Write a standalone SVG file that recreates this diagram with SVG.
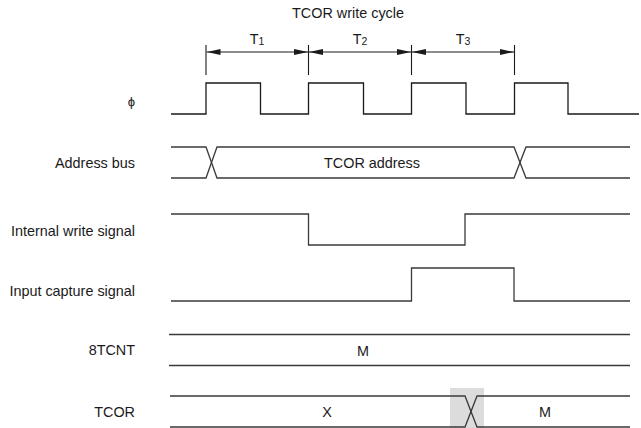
<svg xmlns="http://www.w3.org/2000/svg" width="641" height="428" viewBox="0 0 641 428">
<style>
  text { font-family: "Liberation Sans", Arial, Helvetica, sans-serif; fill: #1a1a1a; }
  .lbl { font-size: 14.4px; text-anchor: end; }
  .val { font-size: 14.4px; text-anchor: middle; }
  .sub { font-size: 10.5px; }
  .sig { fill: none; stroke: #1a1a1a; stroke-width: 1.3; }
  .bus { fill: none; stroke: #3a3a3a; stroke-width: 1.3; }
  .tick { stroke: #1a1a1a; stroke-width: 1.1; }
  .dim { stroke: #1a1a1a; stroke-width: 1.1; marker-start: url(#ah); marker-end: url(#ah); }
</style>
<defs>
  <marker id="ah" viewBox="0 0 14 6" refX="14" refY="3" markerWidth="14" markerHeight="6" markerUnits="userSpaceOnUse" orient="auto-start-reverse">
    <polygon points="0,0 14,3 0,6" fill="#1a1a1a"/>
  </marker>
</defs>
<rect width="641" height="428" fill="#ffffff"/>

<g id="title">
  <text class="val" x="348" y="18">TCOR write cycle</text>
</g>

<g id="cycle-ticks">
  <line class="tick" x1="206" y1="45" x2="206" y2="75"/>
  <line class="tick" x1="308.5" y1="45" x2="308.5" y2="75"/>
  <line class="tick" x1="411.5" y1="45" x2="411.5" y2="75"/>
  <line class="tick" x1="514.5" y1="45" x2="514.5" y2="75"/>
</g>

<g id="connectors">
  <line class="dim" x1="206.5" y1="52" x2="308" y2="52"/>
  <line class="dim" x1="309" y1="52" x2="411" y2="52"/>
  <line class="dim" x1="412" y1="52" x2="514" y2="52"/>
</g>

<g id="T1"><text class="val" x="257" y="44">T<tspan class="sub" dy="1">1</tspan></text></g>
<g id="T2"><text class="val" x="360" y="44">T<tspan class="sub" dy="1">2</tspan></text></g>
<g id="T3"><text class="val" x="463" y="44">T<tspan class="sub" dy="1">3</tspan></text></g>

<g id="phi">
  <text class="lbl" x="135" y="106" style="font-size:13px">ϕ</text>
  <path class="sig" d="M171,114 H206 V83 H260.5 V114 H308.5 V83 H363.5 V114 H411.5 V83 H466 V114 H514.5 V83 H568 V114 H639"/>
</g>

<g id="address-bus">
  <text class="lbl" x="135" y="168">Address bus</text>
  <path class="bus" d="M171,147 H206 L217,178 H514 L526,147 H630"/>
  <path class="bus" d="M171,178 H206 L217,147 H514 L526,178 H630"/>
  <text class="val" x="372" y="168">TCOR address</text>
</g>

<g id="internal-write-signal">
  <text class="lbl" x="135" y="235.5">Internal write signal</text>
  <path class="bus" d="M171,214 H308.5 V245 H465 V214 H630"/>
</g>

<g id="input-capture-signal">
  <text class="lbl" x="135" y="295.5">Input capture signal</text>
  <path class="bus" d="M171,301 H411.5 V268 H514 V301 H630"/>
</g>

<g id="tcnt">
  <text class="lbl" x="135" y="355">8TCNT</text>
  <line class="bus" x1="169" y1="334.5" x2="630" y2="334.5"/>
  <line class="bus" x1="169" y1="365.5" x2="630" y2="365.5"/>
  <text class="val" x="363" y="356">M</text>
</g>

<g id="tcor">
  <text class="lbl" x="135" y="417">TCOR</text>
  <rect x="450" y="388" width="34" height="40" fill="#dcdcdc"/>
  <path class="bus" d="M170,396 H465 L477,427 H630"/>
  <path class="bus" d="M170,427 H465 L477,396 H630"/>
  <text class="val" x="327" y="417">X</text>
  <text class="val" x="545" y="417">M</text>
</g>
</svg>
